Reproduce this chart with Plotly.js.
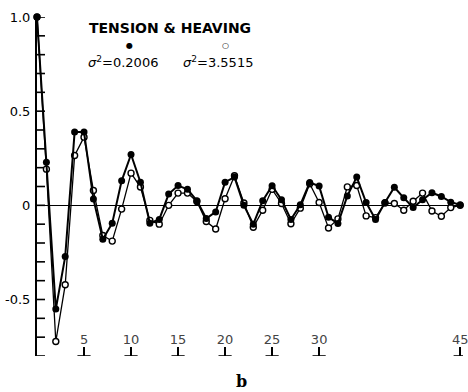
<!DOCTYPE html>
<html>
<head>
<meta charset="utf-8">
<script src="https://cdn.plot.ly/plotly-3.0.1.min.js"></script>
<style>html,body{margin:0;padding:0;background:#fff;}#chart{width:468px;height:392px;}</style>
</head>
<body>
<div id="chart"></div>
<script>
const lags = [0,1,2,3,4,5,6,7,8,9,10,11,12,13,14,15,16,17,18,19,20,21,22,23,24,25,26,27,28,29,30,31,32,33,34,35,36,37,38,39,40,41,42,43,44,45];
const tension = [1.0,0.229,-0.551,-0.272,0.389,0.389,0.033,-0.18,-0.095,0.13,0.27,0.123,-0.095,-0.075,0.06,0.105,0.085,0.025,-0.07,-0.035,0.123,0.15,0.0,-0.1,0.025,0.104,0.03,-0.075,0.003,0.121,0.102,-0.063,-0.097,0.05,0.15,0.015,-0.075,0.015,0.096,0.04,-0.012,0.03,0.067,0.047,0.017,0.003];
const heaving = [1.0,0.192,-0.723,-0.422,0.265,0.362,0.079,-0.16,-0.19,-0.02,0.171,0.097,-0.08,-0.1,0.0,0.065,0.065,0.02,-0.086,-0.126,0.035,0.157,0.012,-0.116,-0.026,0.085,0.01,-0.098,-0.015,0.115,0.015,-0.12,-0.072,0.098,0.105,-0.056,-0.065,0.012,0.01,-0.026,0.022,0.065,-0.03,-0.058,-0.012,0.0];
const xTickVals = [5,10,15,20,25,30,45];
const yTickVals = [-0.5,0,0.5,1.0];
const yTickText = ["-0.5","0","0.5","1.0"];
const yMinorVals = [-0.8,-0.7,-0.6,-0.5,-0.4,-0.3,-0.2,-0.1,0,0.1,0.2,0.3,0.4,0.5,0.6,0.7,0.8,0.9,1.0];
const legendTitle = "TENSION & HEAVING";
const label1 = "<i>σ</i><sup>2</sup>=0.2006";
const label2 = "<i>σ</i><sup>2</sup>=3.5515";
const panelLabel = "b";

const xRange = [0, 45.3];
const yRange = [-0.8, 1.0];
const font = "DejaVu Sans, sans-serif";
// tick decoration lengths (in axis units, ~8px)
const tickLenX = 0.85;
const tickLenY = 0.043;

// build tick decorations as line segments separated by nulls
const tx = [], ty = [];
xTickVals.forEach(v => {
  tx.push(v - 0.7, v + 0.7, null, v, v, null);
  ty.push(yRange[0], yRange[0], null, yRange[0], yRange[0] + tickLenY, null);
});
yMinorVals.forEach(v => {
  tx.push(xRange[0], xRange[0] + tickLenX, null);
  ty.push(v, v, null);
});

const traces = [
  {x: tx, y: ty, mode: "lines", type: "scatter", line: {color: "#000", width: 1.6},
   connectgaps: false, hoverinfo: "skip", cliponaxis: false},
  {x: lags, y: heaving, mode: "lines+markers", type: "scatter",
   line: {color: "#000", width: 1.3},
   marker: {symbol: "circle", size: 6, color: "#fff", line: {color: "#000", width: 1.4}},
   cliponaxis: false},
  {x: lags, y: tension, mode: "lines+markers", type: "scatter",
   line: {color: "#000", width: 2},
   marker: {symbol: "circle", size: 7, color: "#000"},
   cliponaxis: false}
];
const layout = {
  width: 468, height: 392,
  margin: {l: 37, r: 5, t: 17, b: 36},
  paper_bgcolor: "#fff", plot_bgcolor: "#fff",
  showlegend: false,
  font: {family: font, color: "#000", size: 12},
  xaxis: {range: xRange, showgrid: false, zeroline: false, showline: false,
          tickvals: xTickVals, ticks: "inside", ticklen: 9, tickwidth: 1.5, tickcolor: "#000",
          ticklabelposition: "inside", ticklabeloverflow: "allow", tickfont: {family: font, size: 13}},
  yaxis: {range: yRange, showgrid: false, zeroline: true, zerolinecolor: "#000", zerolinewidth: 1.5,
          showline: true, linewidth: 2, linecolor: "#000", mirror: false,
          tickvals: yTickVals, ticktext: yTickText, ticks: "",
          tickfont: {family: font, size: 13}, ticklabelstandoff: 2},
  annotations: [
    {text: legendTitle, xref: "paper", yref: "paper", x: (170-37)/426, y: 1 - (28-17)/339, showarrow: false, font: {family: font, size: 14, weight: "bold"}, xanchor: "center", yanchor: "middle"},
    {text: "●", xref: "paper", yref: "paper", x: (129-37)/426, y: 1 - (45-17)/339, showarrow: false, font: {family: font, size: 8}, xanchor: "center", yanchor: "middle"},
    {text: "○", xref: "paper", yref: "paper", x: (225-37)/426, y: 1 - (45-17)/339, showarrow: false, font: {family: font, size: 8}, xanchor: "center", yanchor: "middle"},
    {text: label1, xref: "paper", yref: "paper", x: (123-37)/426, y: 1 - (62-17)/339, showarrow: false, font: {family: font, size: 13}, xanchor: "center", yanchor: "middle"},
    {text: label2, xref: "paper", yref: "paper", x: (218-37)/426, y: 1 - (62-17)/339, showarrow: false, font: {family: font, size: 13}, xanchor: "center", yanchor: "middle"},
    {text: "<b>" + panelLabel + "</b>", xref: "paper", yref: "paper", x: (241-37)/426, y: -(381-356)/339, showarrow: false, font: {family: "DejaVu Serif, serif", size: 16}, xanchor: "center", yanchor: "middle"}
  ]
};
Plotly.newPlot("chart", traces, layout, {staticPlot: true, displayModeBar: false});
</script>
</body>
</html>
